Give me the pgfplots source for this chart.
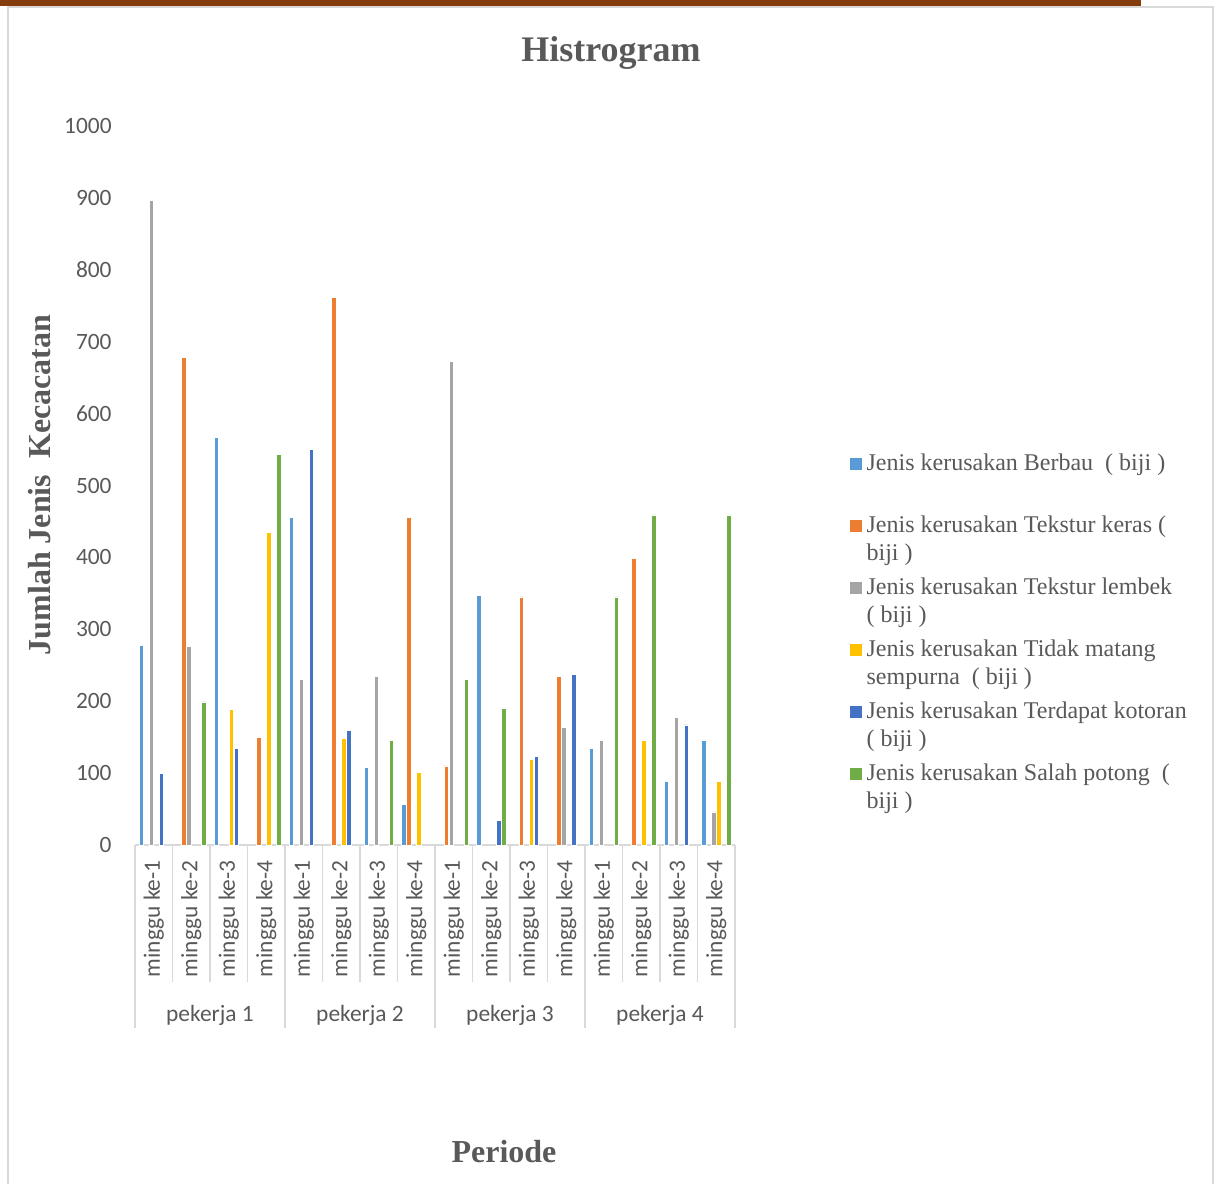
\documentclass[border=0pt]{standalone}
\usepackage{pgfplots}
\pgfplotsset{compat=1.18}
\usepackage{fontspec}
\setmainfont{Liberation Serif}
\newfontfamily\calibri{Carlito}
\definecolor{txt}{HTML}{595959}
\definecolor{axl}{HTML}{D9D9D9}
\definecolor{brownbar}{HTML}{843C0C}
\definecolor{c1}{HTML}{5B9BD5}
\definecolor{c2}{HTML}{ED7D31}
\definecolor{c3}{HTML}{A5A5A5}
\definecolor{c4}{HTML}{FFC000}
\definecolor{c5}{HTML}{4472C4}
\definecolor{c6}{HTML}{70AD47}
\pgfplotsset{sqleg/.style={legend image code/.code={\path[draw=none,fill=none] (0pt,0pt) rectangle (5.6pt,7pt); \fill[##1,draw=none,overlay] (0pt,18.4pt) rectangle (5.6pt,24pt);}}}
\begin{document}
\begin{tikzpicture}
\useasboundingbox (0pt,0pt) rectangle (609pt,591.5pt);
\fill[brownbar] (0pt,588.5pt) rectangle (570.5pt,591.5pt);
\draw[axl, line width=0.9pt] (4pt,-2pt) -- (4pt,588pt) -- (606.5pt,588pt) -- (606.5pt,-2pt);
\node[font=\bfseries\fontsize{18}{20}\selectfont, text=txt] at (305.5pt,565pt) {Histrogram};
\node[rotate=90, font=\bfseries\fontsize{16}{18}\selectfont, text=txt] at (20pt,349pt) {Jumlah Jenis\ \ Kecacatan};
\node[font=\bfseries\fontsize{16}{18}\selectfont, text=txt] at (252pt,15.5pt) {Periode};
\begin{axis}[
  at={(67.5pt,169pt)}, anchor=south west, scale only axis,
  width=300pt, height=359.5pt,
  xmin=-0.5, xmax=15.5, ymin=0, ymax=1000,
  ytick={0,100,...,1000},
  xtick={0,...,15},
  xticklabels={minggu ke-1,minggu ke-2,minggu ke-3,minggu ke-4,minggu ke-1,minggu ke-2,minggu ke-3,minggu ke-4,minggu ke-1,minggu ke-2,minggu ke-3,minggu ke-4,minggu ke-1,minggu ke-2,minggu ke-3,minggu ke-4},
  major tick length=0pt,
  axis x line*=bottom, axis y line*=left,
  y axis line style={draw=none},
  x axis line style={axl, line width=0.75pt},
  scaled y ticks=false,
  /pgf/number format/set thousands separator={},
  /pgf/number format/assume math mode=true,
  ticklabel style={font=\calibri\fontsize{11.7}{14}\selectfont, text=txt},
  yticklabel style={inner sep=0pt, inner xsep=11.5pt, anchor=east},
  xticklabel style={rotate=90, anchor=east, inner sep=0pt, inner xsep=7.5pt},
  ybar, bar width=0.12,
  clip=false,
  legend cell align=left,
  legend style={at={(1.1917,0.5077)}, anchor=north west, draw=none, fill=none,
    inner sep=0pt, row sep=5pt, column sep=0pt,
    font=\fontsize{12}{14}\selectfont, text=txt,
    nodes={align=left, inner sep=0pt, inner xsep=2.5pt, text height=9pt, text depth=17pt}},
  every axis plot/.append style={draw=white, line width=0.4pt},
]
\addplot[fill=c1, bar shift=-0.3333, sqleg] coordinates {(0,277) (2,567) (4,456) (6,108) (7,56) (9,347) (12,134) (14,89) (15,145)};
\addlegendentry{Jenis kerusakan Berbau~~( biji )\\\mbox{}}
\addplot[fill=c2, bar shift=-0.2, sqleg] coordinates {(1,678) (3,149) (5,761) (7,456) (8,110) (10,345) (11,234) (13,398)};
\addlegendentry{Jenis kerusakan Tekstur keras (\\biji )}
\addplot[fill=c3, bar shift=-0.0667, sqleg] coordinates {(0,897) (1,276) (4,230) (6,234) (8,672) (11,164) (12,145) (14,178) (15,46)};
\addlegendentry{Jenis kerusakan Tekstur lembek\\( biji )}
\addplot[fill=c4, bar shift=0.0667, sqleg] coordinates {(2,188) (3,435) (5,148) (7,101) (10,119) (13,145) (15,89)};
\addlegendentry{Jenis kerusakan Tidak matang\\sempurna~~( biji )}
\addplot[fill=c5, bar shift=0.2, sqleg] coordinates {(0,99) (2,134) (4,550) (5,159) (9,34) (10,123) (11,237) (14,167)};
\addlegendentry{Jenis kerusakan Terdapat kotoran\\( biji )}
\addplot[fill=c6, bar shift=0.3333, sqleg] coordinates {(1,199) (3,543) (6,145) (8,230) (9,190) (12,345) (13,459) (15,459)};
\addlegendentry{Jenis kerusakan Salah potong~~(\\biji )}
\pgfplotsinvokeforeach{-0.5,0.5,...,15.5}{\draw[axl, line width=0.75pt] (axis cs:#1,0) -- ++(0pt,-68.5pt);}
\pgfplotsinvokeforeach{-0.5,3.5,7.5,11.5,15.5}{\draw[axl, line width=0.75pt] (axis cs:#1,0) -- ++(0pt,-91.5pt);}
\node[font=\calibri\fontsize{11.7}{14}\selectfont, text=txt] at (axis cs:1.5,0) [yshift=-85pt] {pekerja 1};
\node[font=\calibri\fontsize{11.7}{14}\selectfont, text=txt] at (axis cs:5.5,0) [yshift=-85pt] {pekerja 2};
\node[font=\calibri\fontsize{11.7}{14}\selectfont, text=txt] at (axis cs:9.5,0) [yshift=-85pt] {pekerja 3};
\node[font=\calibri\fontsize{11.7}{14}\selectfont, text=txt] at (axis cs:13.5,0) [yshift=-85pt] {pekerja 4};
\end{axis}
\end{tikzpicture}
\end{document}
